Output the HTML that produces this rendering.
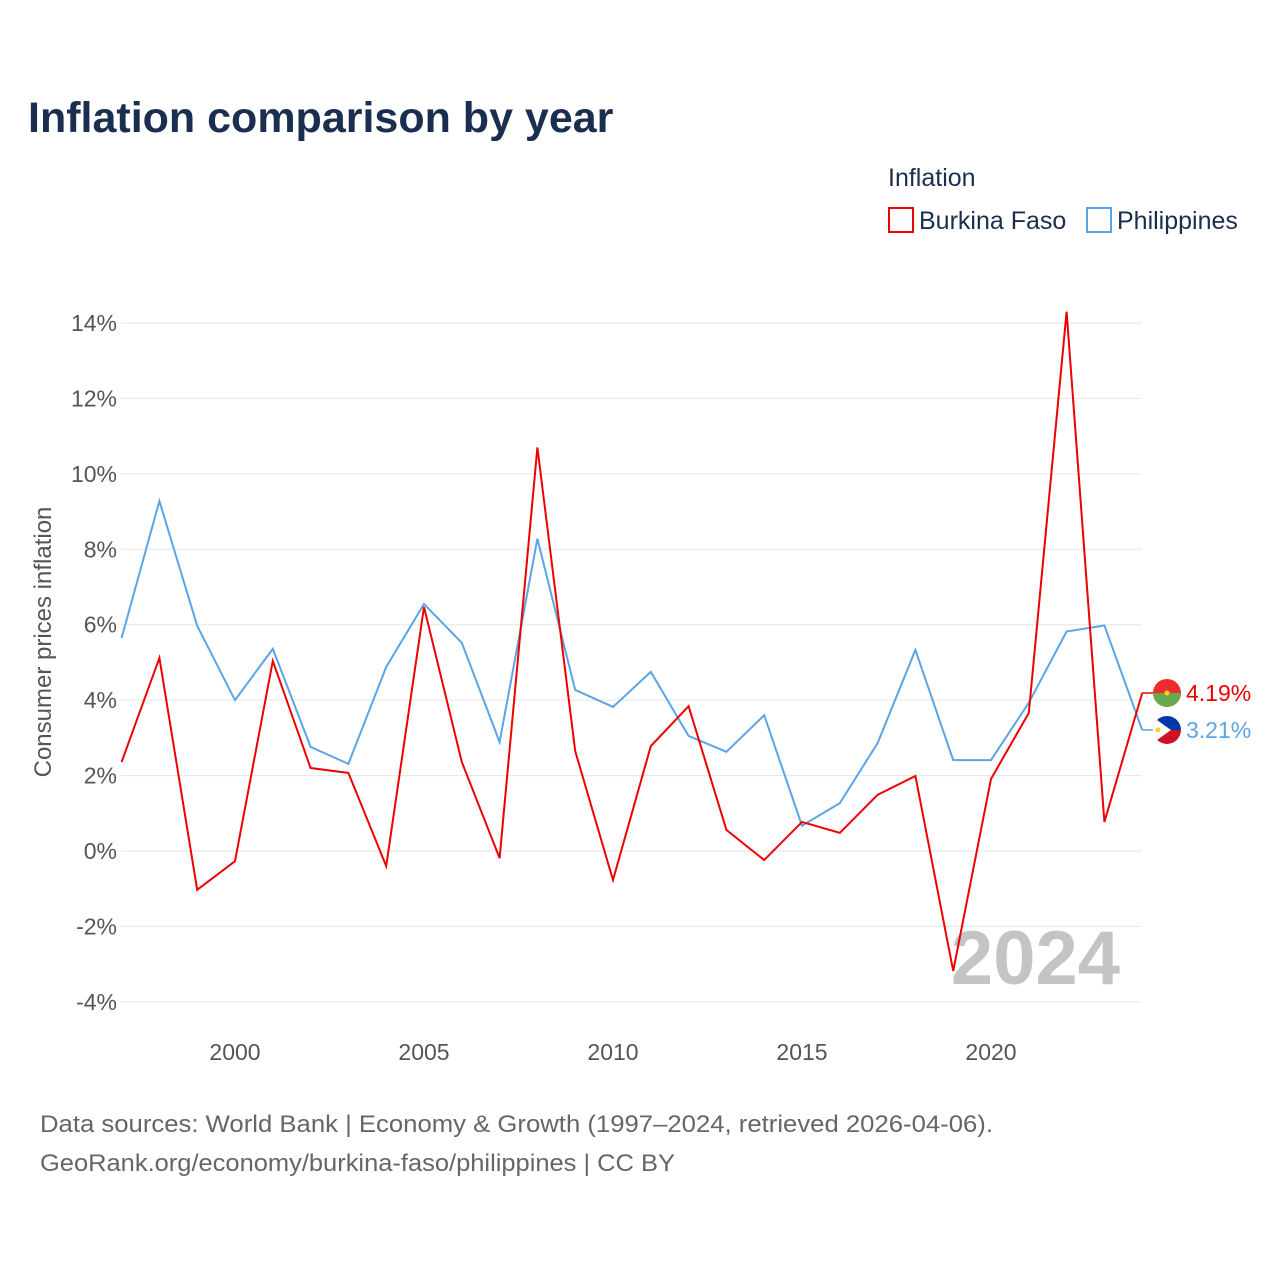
<!DOCTYPE html>
<html><head><meta charset="utf-8"><style>
body{margin:0;background:#fff;font-family:"Liberation Sans",sans-serif;}
svg text{font-family:"Liberation Sans",sans-serif;}
</style></head><body>
<svg id="chart" width="1280" height="1280" viewBox="0 0 1280 1280">
<rect width="1280" height="1280" fill="#fff"/>
<text x="28" y="132" font-size="43" font-weight="bold" fill="#1a2e4f">Inflation comparison by year</text>
<text x="888" y="186" font-size="25" fill="#1a2e4f">Inflation</text>
<g><rect x="889" y="208" width="24" height="24" fill="none" stroke="#e00" stroke-width="2"/><text x="919" y="229" font-size="25" fill="#1a2e4f">Burkina Faso</text></g>
<g><rect x="1087" y="208" width="24" height="24" fill="none" stroke="#5aa5e8" stroke-width="2"/><text x="1117" y="229" font-size="25" fill="#1a2e4f">Philippines</text></g>
<g id="grid"></g><g id="yt"></g><g id="xt"></g>
<text x="1120" y="984" text-anchor="end" font-size="76" font-weight="bold" fill="#c4c4c4">2024</text>
<text transform="translate(51,642) rotate(-90)" text-anchor="middle" font-size="24" fill="#555">Consumer prices inflation</text>
<g id="series"></g>
<text x="40" y="1132" font-size="24" fill="#666" textLength="953" lengthAdjust="spacingAndGlyphs">Data sources: World Bank | Economy &amp; Growth (1997–2024, retrieved 2026-04-06).</text>
<text x="40" y="1171" font-size="24" fill="#666" textLength="635" lengthAdjust="spacingAndGlyphs">GeoRank.org/economy/burkina-faso/philippines | CC BY</text>
</svg>
<script>
const years=[1997,1998,1999,2000,2001,2002,2003,2004,2005,2006,2007,2008,2009,2010,2011,2012,2013,2014,2015,2016,2017,2018,2019,2020,2021,2022,2023,2024];
const burkina=[2.36,5.12,-1.03,-0.27,5.04,2.2,2.07,-0.4,6.47,2.36,-0.19,10.7,2.65,-0.77,2.78,3.84,0.56,-0.24,0.77,0.48,1.49,1.99,-3.18,1.91,3.66,14.3,0.77,4.19];
const philippines=[5.65,9.28,5.97,4.0,5.36,2.76,2.31,4.88,6.55,5.52,2.89,8.28,4.27,3.82,4.75,3.05,2.63,3.6,0.67,1.27,2.86,5.33,2.41,2.41,3.93,5.82,5.98,3.21];
const yTicks=[-4,-2,0,2,4,6,8,10,12,14];
const xTicks=[2000,2005,2010,2015,2020];
const NS="http://www.w3.org/2000/svg";
const X=y=>121.6+(y-1997)*37.8;
const Y=v=>851-v*37.714;
function mk(t,a,p){const e=document.createElementNS(NS,t);for(const k in a)e.setAttribute(k,a[k]);p.appendChild(e);return e;}
const g=document.getElementById('grid'),yt=document.getElementById('yt'),xt=document.getElementById('xt'),s=document.getElementById('series');
yTicks.forEach(v=>{const l=mk('line',{x1:121,x2:1142,y1:Y(v),y2:Y(v),stroke:'#e6e6e6','stroke-width':1},g);


const t=mk('text',{x:117,y:Y(v)+8,'text-anchor':'end','font-size':23,fill:'#555'},yt);t.textContent=v+'%';

});
xTicks.forEach(v=>{const t=mk('text',{x:X(v),y:1060,'text-anchor':'middle','font-size':23,fill:'#555'},xt);t.textContent=v;

});
function line(d,c,name){const p=mk('polyline',{points:d.map((v,i)=>X(years[i])+','+Y(v)).join(' '),fill:'none',stroke:c,'stroke-width':2},s);

}
line(philippines,'#5aa5e8','philippines-line');
line(burkina,'#e00','burkina-faso-line');
const lx=X(2024),bv=burkina[27],pv=philippines[27];
let by=Y(bv),py=Y(pv);if(py-by<36){const m=(by+py)/2;by=m-18;py=m+18;}
const bl=mk('polyline',{points:`${lx},${Y(bv)} ${lx+5},${by} ${lx+12},${by}`,fill:'none',stroke:'#e00','stroke-width':1.5},s);

const pl=mk('polyline',{points:`${lx},${Y(pv)} ${lx+5},${py} ${lx+12},${py}`,fill:'none',stroke:'#5aa5e8','stroke-width':1.5},s);

const fb=mk('g',{},s);
mk('circle',{cx:1167,cy:by,r:14,fill:'#ef2b2d'},fb);
mk('path',{d:`M1153 ${by} A14 14 0 0 0 1181 ${by} Z`,fill:'#6aa84f'},fb);
mk('circle',{cx:1167,cy:by,r:2.5,fill:'#fcd116'},fb);
const fp=mk('g',{},s);
mk('path',{d:`M1153 ${py} A14 14 0 0 1 1181 ${py} Z`,fill:'#0038a8'},fp);
mk('path',{d:`M1153 ${py} A14 14 0 0 0 1181 ${py} Z`,fill:'#ce1126'},fp);
mk('path',{d:`M1157 ${py-10} L1171 ${py} L1157 ${py+10} A14 14 0 0 1 1157 ${py-10} Z`,fill:'#fff'},fp);
mk('circle',{cx:1158,cy:py,r:2.5,fill:'#fcd116'},fp);
const tb=mk('text',{x:1186,y:by+8,'font-size':23,fill:'#e00'},s);tb.textContent=bv.toFixed(2)+'%';

const tp=mk('text',{x:1186,y:py+8,'font-size':23,fill:'#5aa5e8'},s);tp.textContent=pv.toFixed(2)+'%';

</script>
</body></html>
